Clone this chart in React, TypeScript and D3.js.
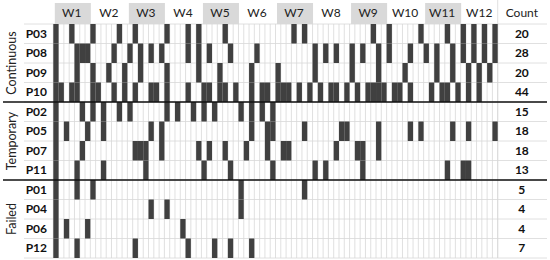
import React from "react";
import * as d3 from "d3";

// participants in display order, grouped
const participants = ["P03", "P08", "P09", "P10", "P02", "P05", "P07", "P11", "P01", "P04", "P06", "P12"];
const groups = [
  { name: "Continuous", members: ["P03", "P08", "P09", "P10"] },
  { name: "Temporary", members: ["P02", "P05", "P07", "P11"] },
  { name: "Failed", members: ["P01", "P04", "P06", "P12"] },
];
const weeks = ["W1", "W2", "W3", "W4", "W5", "W6", "W7", "W8", "W9", "W10", "W11", "W12"];
const daysPerWeek = 7;

// day indices (0-based) with activity
const activeDays: Record<string, number[]> = {
  P03: [0, 3, 7, 12, 15, 21, 25, 27, 32, 45, 47, 60, 63, 69, 74, 77, 79, 81, 83],
  P08: [0, 4, 5, 6, 11, 14, 16, 18, 20, 25, 27, 29, 33, 38, 49, 51, 53, 56, 58, 61, 63, 67, 70, 72, 75, 77, 79, 81, 83],
  P09: [0, 4, 7, 10, 13, 16, 21, 27, 31, 37, 42, 49, 56, 61, 66, 72, 75, 78, 80, 82],
  P10: [0, 1, 3, 4, 7, 8, 11, 13, 15, 18, 19, 21, 25, 28, 29, 31, 32, 34, 37, 39, 40, 42, 43, 44, 46, 48, 50, 52, 53, 55, 57, 59, 60, 61, 62, 64, 65, 67, 71, 73, 74, 76, 78, 80],
  P02: [0, 5, 7, 9, 12, 14, 21, 23, 26, 28, 30, 35, 37, 39, 41],
  P05: [0, 2, 6, 9, 18, 20, 37, 40, 41, 47, 54, 55, 61, 67, 69, 75, 78, 83],
  P07: [0, 5, 15, 16, 17, 20, 27, 29, 32, 36, 40, 43, 44, 53, 57, 58, 61],
  P11: [0, 4, 9, 17, 28, 33, 41, 49, 51, 58, 74, 77, 78],
  P01: [0, 4, 7, 35, 47],
  P04: [0, 18, 21, 35],
  P06: [0, 2, 6, 24],
  P12: [0, 4, 15, 25, 30, 33, 37],
};
const counts = [20, 28, 20, 44, 15, 18, 18, 13, 5, 4, 4, 7];

const W = 550;
const H = 260;
const font = "Lato, 'Open Sans', sans-serif";

export default function App() {
  const nDays = weeks.length * daysPerWeek;
  const gridLeft = 53.3;
  const gridRight = 497.7;
  const top = 24;
  const bottom = 258;

  const x = d3.scaleBand<number>().domain(d3.range(nDays)).range([gridLeft, gridRight]);
  const xWeek = d3.scaleBand<string>().domain(weeks).range([gridLeft, gridRight]);
  const y = d3.scaleBand<string>().domain(participants).range([top, bottom]);
  const countX = (gridRight + W) / 2 - 2;

  return (
    <div style={{ position: "absolute", left: 0, top: 0 }}>
      <svg width={W} height={H} style={{ display: "block", fontFamily: font }}>
        <rect width={W} height={H} fill="#fff" />

        {/* week header */}
        {weeks.map((w, i) => (
          <g key={w}>
            {i % 2 === 0 && (
              <rect x={xWeek(w)! + 1.5} y={3} width={xWeek.bandwidth() - 1} height={top - 3} fill="#d9d9d9" />
            )}
            <text
              x={xWeek(w)! + xWeek.bandwidth() / 2}
              y={14}
              textAnchor="middle"
              dominantBaseline="middle"
              fontSize={12}
              fill="#222"
            >
              {w}
            </text>
          </g>
        ))}
        <text x={countX} y={14} textAnchor="middle" dominantBaseline="middle" fontSize={12} fill="#222">
          Count
        </text>

        {/* vertical day grid */}
        {d3.range(nDays + 1).map((d) => {
          const xx = d < nDays ? x(d)! : gridRight;
          return <line key={d} x1={xx} x2={xx} y1={top} y2={bottom} stroke="#d8d8d8" strokeWidth={0.8} />;
        })}
        <line x1={gridRight} x2={gridRight} y1={0} y2={bottom} stroke="#d8d8d8" strokeWidth={0.8} />

        {/* horizontal row lines */}
        {participants.map((p) => (
          <line key={p} x1={24} x2={W - 3} y1={y(p)! + y.bandwidth()} y2={y(p)! + y.bandwidth()} stroke="#d8d8d8" strokeWidth={0.8} />
        ))}
        <line x1={24} x2={W - 3} y1={top} y2={top} stroke="#d8d8d8" strokeWidth={0.8} />

        {/* active cells */}
        {participants.map((p) =>
          activeDays[p].map((d) => (
            <rect key={p + d} x={x(d)!} y={y(p)!} width={x.bandwidth()} height={y.bandwidth()} fill="#404040" />
          ))
        )}

        {/* row labels and counts */}
        {participants.map((p, i) => (
          <g key={p}>
            <text
              x={47}
              y={y(p)! + y.bandwidth() / 2 + 1}
              textAnchor="end"
              dominantBaseline="middle"
              fontSize={12}
              fontWeight="bold"
              fill="#111"
            >
              {p}
            </text>
            <text
              x={countX}
              y={y(p)! + y.bandwidth() / 2 + 1}
              textAnchor="middle"
              dominantBaseline="middle"
              fontSize={12}
              fontWeight="bold"
              fill="#111"
            >
              {counts[i]}
            </text>
          </g>
        ))}

        {/* group labels and separators */}
        {groups.map((g, gi) => {
          const y0 = y(g.members[0])!;
          const y1 = y(g.members[g.members.length - 1])! + y.bandwidth();
          return (
            <g key={g.name}>
              <text
                transform={`translate(13,${(y0 + y1) / 2}) rotate(-90)`}
                textAnchor="middle"
                dominantBaseline="middle"
                fontSize={12.5}
                fill="#222"
              >
                {g.name}
              </text>
              {gi > 0 && <line x1={3} x2={W - 3} y1={y0} y2={y0} stroke="#111" strokeWidth={1.5} />}
            </g>
          );
        })}
      </svg>
    </div>
  );
}
